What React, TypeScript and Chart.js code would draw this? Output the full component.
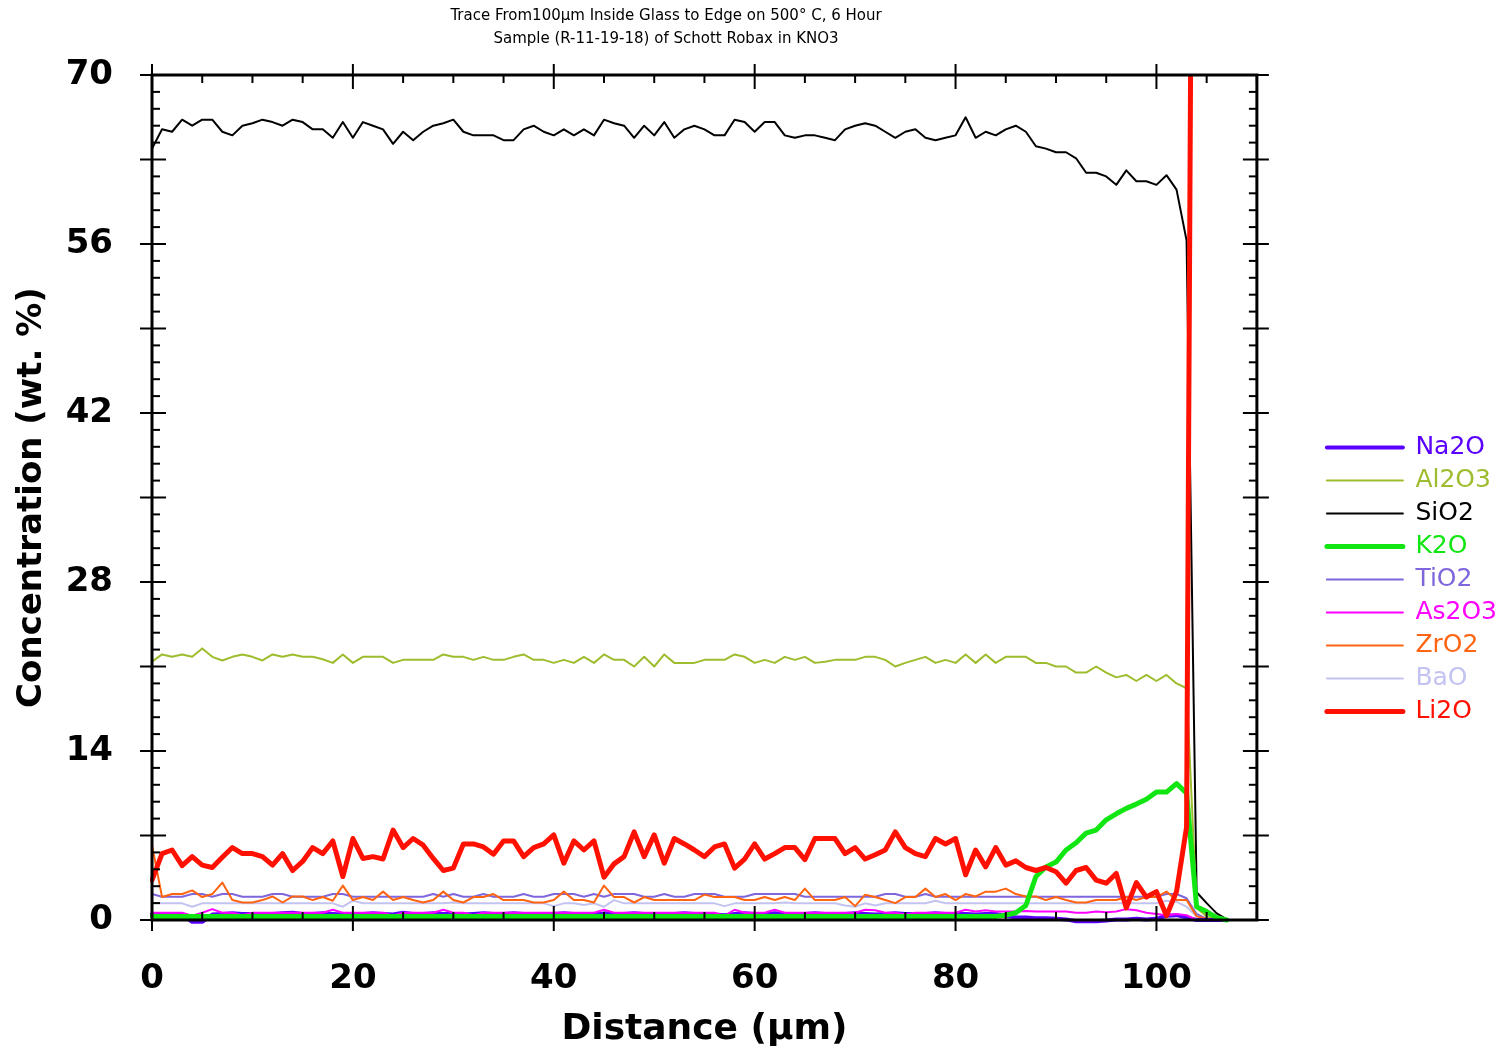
import React, { useEffect, useRef } from "react";
import { Chart, registerables } from "chart.js";

Chart.register(...registerables);

const TITLE_LINES = [
  "Trace From100µm Inside Glass to Edge on 500° C, 6 Hour",
  "Sample (R-11-19-18) of Schott Robax in KNO3",
];
const X_TITLE = "Distance (µm)";
const Y_TITLE = "Concentration (wt. %)";

const X_MIN = 0;
const X_MAX = 110;
const X_STEP = 5;
const X_MAJOR = 20;
const Y_MIN = 0;
const Y_MAX = 70;
const Y_STEP = 1.4;
const Y_MAJOR = 7;
const Y_LABEL_STEP = 14;

const distance = [
  0, 1, 2, 3, 4, 5, 6, 7, 8, 9, 10, 11, 12, 13, 14, 15, 16, 17, 18, 19,
  20, 21, 22, 23, 24, 25, 26, 27, 28, 29, 30, 31, 32, 33, 34, 35, 36, 37, 38, 39,
  40, 41, 42, 43, 44, 45, 46, 47, 48, 49, 50, 51, 52, 53, 54, 55, 56, 57, 58, 59,
  60, 61, 62, 63, 64, 65, 66, 67, 68, 69, 70, 71, 72, 73, 74, 75, 76, 77, 78, 79,
  80, 81, 82, 83, 84, 85, 86, 87, 88, 89, 90, 91, 92, 93, 94, 95, 96, 97, 98, 99,
  100, 101, 102, 103, 104, 105, 106, 107,
];

const na2o = [
  0.5, 0.45, 0.45, 0.45, -0.15, -0.15, 0.45, 0.5, 0.55, 0.5, 0.5, 0.45, 0.5, 0.55, 0.6, 0.5, 0.5, 0.55, 0.5, 0.45,
  0.5, 0.5, 0.55, 0.5, 0.45, 0.6, 0.5, 0.5, 0.55, 0.5, 0.5, 0.45, 0.5, 0.55, 0.5, 0.5, 0.55, 0.5, 0.45, 0.5,
  0.5, 0.55, 0.5, 0.5, 0.45, 0.55, 0.5, 0.5, 0.55, 0.5, 0.45, 0.5, 0.5, 0.55, 0.5, 0.5, 0.45, 0.4, 0.5, 0.55,
  0.5, 0.5, 0.55, 0.5, 0.45, 0.5, 0.55, 0.5, 0.5, 0.5, 0.55, 0.5, 0.45, 0.5, 0.55, 0.5, 0.5, 0.5, 0.55, 0.5,
  0.5, 0.5, 0.45, 0.5, 0.5, 0.35, 0.2, 0.2, 0.15, 0.15, 0.1, 0.05, -0.1, -0.1, -0.1, -0.05, 0.05, 0.05, 0.1, 0.05,
  0.1, 0.35, 0.4, 0.2, 0, 0, 0, 0,
];

const al2o3 = [
  21.4, 22.0, 21.8, 22.0, 21.8, 22.5, 21.8, 21.5, 21.8, 22.0, 21.8, 21.5, 22.0, 21.8, 22.0, 21.8, 21.8, 21.6, 21.3, 22.0,
  21.3, 21.8, 21.8, 21.8, 21.3, 21.55, 21.55, 21.55, 21.55, 22.0, 21.8, 21.8, 21.55, 21.8, 21.55, 21.55, 21.8, 22.0, 21.55, 21.55,
  21.3, 21.55, 21.3, 21.8, 21.3, 22.0, 21.55, 21.55, 21.0, 21.8, 21.0, 22.0, 21.3, 21.3, 21.3, 21.55, 21.55, 21.55, 22.0, 21.8,
  21.3, 21.55, 21.3, 21.8, 21.55, 21.8, 21.3, 21.4, 21.55, 21.55, 21.55, 21.8, 21.8, 21.55, 21.0, 21.3, 21.55, 21.8, 21.3, 21.55,
  21.3, 22.0, 21.3, 22.0, 21.3, 21.8, 21.8, 21.8, 21.3, 21.3, 21.0, 21.0, 20.5, 20.5, 21.0, 20.5, 20.1, 20.3, 19.8, 20.3,
  19.8, 20.3, 19.6, 19.2, 1.0, 0.3, 0.1, 0,
];

const sio2 = [
  63.9, 65.5, 65.3, 66.3, 65.8, 66.3, 66.3, 65.3, 65.0, 65.8, 66.0, 66.3, 66.1, 65.8, 66.3, 66.1, 65.5, 65.5, 64.8, 66.1,
  64.8, 66.1, 65.8, 65.5, 64.3, 65.3, 64.6, 65.3, 65.8, 66.0, 66.3, 65.3, 65.0, 65.0, 65.0, 64.6, 64.6, 65.5, 65.8, 65.3,
  65.0, 65.5, 65.0, 65.5, 65.0, 66.3, 66.0, 65.8, 64.8, 65.8, 65.0, 66.1, 64.8, 65.5, 65.8, 65.5, 65.0, 65.0, 66.3, 66.1,
  65.3, 66.1, 66.1, 65.0, 64.8, 65.0, 65.0, 64.8, 64.6, 65.5, 65.8, 66.0, 65.8, 65.3, 64.8, 65.3, 65.5, 64.8, 64.6, 64.8,
  65.0, 66.5, 64.8, 65.3, 65.0, 65.5, 65.8, 65.3, 64.1, 63.9, 63.6, 63.6, 63.1, 61.9, 61.9, 61.6, 60.9, 62.1, 61.2, 61.2,
  60.9, 61.7, 60.5, 56.3, 2.3, 1.4, 0.55, 0.05,
];

const k2o = [
  0.3, 0.3, 0.3, 0.3, 0.3, 0.3, 0.3, 0.3, 0.3, 0.3, 0.3, 0.3, 0.3, 0.3, 0.3, 0.3, 0.3, 0.3, 0.3, 0.3,
  0.3, 0.3, 0.3, 0.3, 0.3, 0.3, 0.3, 0.3, 0.3, 0.3, 0.3, 0.3, 0.3, 0.3, 0.3, 0.3, 0.3, 0.3, 0.3, 0.3,
  0.3, 0.3, 0.3, 0.3, 0.3, 0.3, 0.3, 0.3, 0.3, 0.3, 0.3, 0.3, 0.3, 0.3, 0.3, 0.3, 0.3, 0.3, 0.3, 0.3,
  0.3, 0.3, 0.3, 0.3, 0.3, 0.3, 0.3, 0.3, 0.3, 0.3, 0.3, 0.3, 0.3, 0.3, 0.3, 0.3, 0.3, 0.3, 0.3, 0.3,
  0.3, 0.3, 0.3, 0.3, 0.3, 0.4, 0.6, 1.2, 3.6, 4.4, 4.8, 5.8, 6.4, 7.2, 7.45, 8.3, 8.8, 9.25, 9.6, 10.0,
  10.6, 10.6, 11.3, 10.5, 1.1, 0.7, 0.2, 0,
];

const tio2 = [
  2.15, 1.93, 1.93, 1.93, 2.15, 2.15, 1.93, 2.15, 2.15, 1.93, 1.93, 1.93, 2.15, 2.15, 1.93, 1.93, 1.93, 1.93, 2.15, 2.15,
  1.93, 1.93, 1.93, 1.93, 1.93, 1.93, 1.93, 1.93, 2.15, 1.93, 2.15, 1.93, 1.93, 2.15, 1.93, 1.93, 1.93, 2.15, 1.93, 1.93,
  2.15, 2.15, 2.15, 1.93, 2.15, 1.93, 2.15, 2.15, 2.15, 1.93, 1.93, 2.15, 1.93, 1.93, 2.15, 2.15, 2.15, 1.93, 1.93, 1.93,
  2.15, 2.15, 2.15, 2.15, 2.15, 1.93, 1.93, 1.93, 1.93, 1.93, 1.93, 1.93, 1.93, 2.15, 2.15, 1.93, 1.93, 2.15, 1.93, 1.93,
  1.93, 1.93, 1.93, 1.93, 1.93, 1.93, 1.93, 1.93, 1.93, 1.93, 1.93, 1.93, 1.93, 1.93, 1.93, 1.93, 1.93, 1.93, 1.93, 1.93,
  1.93, 2.15, 2.15, 1.8, 0.5, 0.1, 0, 0,
];

const as2o3 = [
  0.6, 0.6, 0.6, 0.6, 0.35, 0.6, 0.9, 0.6, 0.6, 0.4, 0.6, 0.6, 0.6, 0.6, 0.6, 0.6, 0.6, 0.6, 0.85, 0.6,
  0.6, 0.6, 0.6, 0.6, 0.35, 0.6, 0.6, 0.6, 0.6, 0.85, 0.6, 0.6, 0.4, 0.6, 0.6, 0.6, 0.6, 0.6, 0.6, 0.6,
  0.6, 0.6, 0.6, 0.6, 0.6, 0.85, 0.6, 0.6, 0.6, 0.6, 0.6, 0.6, 0.6, 0.6, 0.6, 0.6, 0.6, 0.35, 0.85, 0.6,
  0.6, 0.6, 0.85, 0.6, 0.6, 0.6, 0.6, 0.6, 0.6, 0.6, 0.6, 0.85, 0.8, 0.6, 0.6, 0.45, 0.6, 0.6, 0.6, 0.6,
  0.6, 0.85, 0.7, 0.8, 0.7, 0.7, 0.7, 0.75, 0.7, 0.7, 0.7, 0.7, 0.6, 0.6, 0.7, 0.65, 0.7, 0.9, 0.8, 0.6,
  0.5, 0.4, 0.5, 0.4, 0, 0, 0, 0,
];

const zro2 = [
  6.2, 1.9, 2.15, 2.15, 2.45, 1.9, 2.15, 3.1, 1.65, 1.45, 1.45, 1.65, 1.95, 1.45, 1.95, 1.95, 1.65, 1.9, 1.6, 2.85,
  1.65, 1.9, 1.65, 2.35, 1.65, 1.9, 1.65, 1.45, 1.65, 2.35, 1.65, 1.45, 1.9, 1.9, 2.15, 1.65, 1.65, 1.65, 1.45, 1.45,
  1.65, 2.35, 1.65, 1.65, 1.45, 2.85, 1.9, 1.9, 1.45, 1.9, 1.65, 1.65, 1.65, 1.65, 1.65, 2.1, 1.9, 1.9, 1.9, 1.65,
  1.65, 1.9, 1.65, 1.9, 1.65, 2.6, 1.65, 1.65, 1.65, 1.9, 1.15, 2.1, 1.9, 1.65, 1.4, 1.9, 1.9, 2.6, 1.9, 2.15,
  1.65, 2.15, 1.95, 2.35, 2.35, 2.6, 2.15, 1.95, 1.95, 1.65, 1.9, 1.65, 1.45, 1.45, 1.65, 1.65, 1.65, 1.9, 1.65, 1.9,
  1.9, 2.35, 1.65, 1.65, 0.3, 0.1, 0, 0,
];

const bao = [
  1.38, 1.38, 1.38, 1.38, 1.1, 1.38, 1.38, 1.38, 1.38, 1.38, 1.38, 1.38, 1.38, 1.38, 1.38, 1.38, 1.38, 1.38, 1.38, 1.1,
  1.6, 1.38, 1.38, 1.38, 1.38, 1.38, 1.38, 1.38, 1.38, 1.38, 1.45, 1.38, 1.38, 1.38, 1.38, 1.38, 1.38, 1.38, 1.38, 1.38,
  1.15, 1.38, 1.38, 1.25, 1.38, 1.1, 1.65, 1.38, 1.38, 1.38, 1.38, 1.38, 1.38, 1.38, 1.38, 1.38, 1.38, 1.15, 1.38, 1.38,
  1.38, 1.38, 1.38, 1.45, 1.38, 1.38, 1.38, 1.38, 1.38, 1.2, 1.1, 1.38, 1.2, 1.38, 1.38, 1.38, 1.38, 1.38, 1.6, 1.38,
  1.38, 1.38, 1.38, 1.38, 1.38, 1.38, 1.38, 1.38, 1.38, 1.38, 1.38, 1.38, 1.38, 1.38, 1.38, 1.38, 1.38, 1.38, 1.38, 1.38,
  1.38, 1.6, 1.5, 1.1, 0.3, 0.1, 0, 0,
];

const li2o = [
  3.3, 5.5, 5.8, 4.5, 5.25, 4.55, 4.35, 5.2, 6.0, 5.5, 5.5, 5.25, 4.55, 5.5, 4.1, 4.85, 6.0, 5.5, 6.55, 3.6,
  6.75, 5.1, 5.25, 5.05, 7.45, 6.0, 6.75, 6.2, 5.1, 4.1, 4.3, 6.3, 6.3, 6.05, 5.45, 6.55, 6.55, 5.25, 6.0, 6.3,
  7.05, 4.7, 6.55, 5.8, 6.55, 3.55, 4.65, 5.25, 7.3, 5.25, 7.05, 4.7, 6.75, 6.3, 5.8, 5.25, 6.05, 6.3, 4.3, 5.05,
  6.3, 5.05, 5.5, 6.0, 6.0, 5.0, 6.75, 6.75, 6.75, 5.5, 6.0, 5.05, 5.4, 5.8, 7.3, 6.0, 5.5, 5.25, 6.75, 6.3,
  6.75, 3.75, 5.8, 4.4, 6.0, 4.55, 4.9, 4.35, 4.1, 4.35, 4.0, 3.05, 4.1, 4.35, 3.3, 3.05, 3.85, 1.0, 3.1, 1.9,
  2.35, 0.35, 2.35, 7.7, 165,
];

const seriesNames = ["Na2O", "Al2O3", "SiO2", "K2O", "TiO2", "As2O3", "ZrO2", "BaO", "Li2O"];
const seriesValues = [na2o, al2o3, sio2, k2o, tio2, as2o3, zro2, bao, li2o];
const seriesColors = ["#5a00ff", "#9ebd2e", "#000000", "#12e612", "#7f66dd", "#ff00ff", "#ff6412", "#c3c3f2", "#ff1000"];
const seriesWidths = [4, 2, 2, 5, 2, 2, 2, 2, 5];
const seriesOrder = [3, 7, 8, 1, 5, 2, 4, 6, 0];

const FONT = '"DejaVu Sans", "Liberation Sans", Arial, sans-serif';

const isMultiple = (v: number, step: number) => Math.abs(v / step - Math.round(v / step)) < 1e-6;

const frameTicksPlugin = {
  id: "frameTicks",
  afterDatasetsDraw(chart: any) {
    const { ctx, chartArea } = chart;
    const { left, right, top, bottom } = chartArea;
    const xs = chart.scales.x;
    const ys = chart.scales.y;
    ctx.save();
    ctx.strokeStyle = "#000";
    ctx.lineCap = "butt";
    ctx.lineWidth = 2;
    const seg = (x1: number, y1: number, x2: number, y2: number) => {
      ctx.beginPath();
      ctx.moveTo(x1, y1);
      ctx.lineTo(x2, y2);
      ctx.stroke();
    };
    xs.ticks.forEach((t: any) => {
      const px = xs.getPixelForValue(t.value);
      const major = isMultiple(t.value, X_MAJOR);
      const out = major ? 11 : 0;
      const inn = major ? 14 : 8;
      seg(px, bottom + out, px, bottom - inn);
      seg(px, top - out, px, top + inn);
    });
    ys.ticks.forEach((t: any) => {
      const py = ys.getPixelForValue(t.value);
      const major = isMultiple(t.value, Y_MAJOR);
      const out = major ? 12 : 0;
      const inn = major ? 14 : 8;
      seg(left - out, py, left + inn, py);
      seg(right + out, py, right - inn, py);
    });
    ctx.lineWidth = 3;
    ctx.strokeRect(left, top, right - left, bottom - top);
    ctx.restore();
  },
};

const topTitlePlugin = {
  id: "topTitle",
  afterDraw(chart: any) {
    const { ctx } = chart;
    ctx.save();
    ctx.fillStyle = "#000";
    ctx.font = `15px ${FONT}`;
    ctx.textAlign = "center";
    ctx.textBaseline = "middle";
    TITLE_LINES.forEach((line, i) => ctx.fillText(line, 666, 16 + i * 23));
    ctx.restore();
  },
};

export default function App() {
  const canvasRef = useRef<HTMLCanvasElement | null>(null);

  useEffect(() => {
    const canvas = canvasRef.current;
    if (!canvas) return;
    const datasets = seriesNames.map((name, si) => ({
      label: name,
      data: seriesValues[si].map((v, i) => ({ x: distance[i], y: v })),
      borderColor: seriesColors[si],
      backgroundColor: seriesColors[si],
      borderWidth: seriesWidths[si],
      pointRadius: 0,
      pointHoverRadius: 0,
      tension: 0,
      fill: false,
      order: seriesOrder[si],
      borderJoinStyle: "round" as const,
      borderCapStyle: "round" as const,
      clip: { left: 2, top: 0, right: 2, bottom: 4 },
    }));

    const chart = new Chart(canvas, {
      type: "line",
      data: { datasets },
      plugins: [frameTicksPlugin, topTitlePlugin],
      options: {
        responsive: false,
        animation: false,
        devicePixelRatio: 1,
        layout: { padding: { top: 75, left: 0, right: -8, bottom: 0 } },
        plugins: {
          title: { display: false },
          tooltip: { enabled: false },
          legend: {
            display: true,
            position: "right",
            fullSize: false,
            align: "center",
            title: {
              display: true,
              text: " ",
              font: { size: 1, lineHeight: 1 },
              padding: { top: 163, bottom: 0 },
            },
            labels: {
              usePointStyle: true,
              pointStyle: "line",
              pointStyleWidth: 76,
              boxWidth: 76,
              padding: 8,
              font: { family: FONT, size: 25 },
              generateLabels: (ch: any) =>
                ch.data.datasets.map((ds: any, i: number) => ({
                  text: ds.label,
                  fillStyle: ds.borderColor,
                  strokeStyle: ds.borderColor,
                  fontColor: ds.borderColor,
                  lineWidth: ds.borderWidth,
                  lineCap: "round",
                  pointStyle: "line",
                  hidden: false,
                  datasetIndex: i,
                })),
            },
          },
        },
        scales: {
          x: {
            type: "linear",
            position: "bottom",
            min: X_MIN,
            max: X_MAX,
            grid: { display: false, drawTicks: false },
            border: { display: false },
            ticks: {
              stepSize: X_STEP,
              autoSkip: false,
              maxRotation: 0,
              padding: 42,
              color: "#000",
              font: { family: FONT, weight: "bold", size: 34, lineHeight: 1 },
              callback: (v: any) => (isMultiple(Number(v), X_MAJOR) ? String(v) : ""),
            },
            title: {
              display: true,
              text: X_TITLE,
              color: "#000",
              font: { family: FONT, weight: "bold", size: 36, lineHeight: 1 },
              padding: { top: 0, bottom: 3 },
            },
            afterFit: (s: any) => {
              s.height = 131;
            },
          },
          y: {
            type: "linear",
            position: "left",
            min: Y_MIN,
            max: Y_MAX,
            grid: { display: false, drawTicks: false },
            border: { display: false },
            ticks: {
              stepSize: Y_STEP,
              autoSkip: false,
              padding: 39,
              color: "#000",
              font: { family: FONT, weight: "bold", size: 34, lineHeight: 1 },
              callback: (v: any) =>
                isMultiple(Number(v), Y_LABEL_STEP) ? String(Math.round(Number(v))) : "",
            },
            title: {
              display: true,
              text: Y_TITLE,
              color: "#000",
              font: { family: FONT, weight: "bold", size: 34, lineHeight: 1 },
              padding: { top: 15, bottom: 0 },
            },
            afterFit: (s: any) => {
              s.width = 152;
            },
          },
          y2: {
            type: "linear",
            position: "right",
            display: true,
            grid: { display: false, drawTicks: false },
            border: { display: false },
            ticks: { display: false },
            afterFit: (s: any) => {
              s.width = 62;
            },
          },
        },
      },
    } as any);

    return () => {
      chart.destroy();
    };
  }, []);

  return (
    <div style={{ position: "fixed", left: 0, top: 0, width: 1499, height: 1051, background: "#fff" }}>
      <canvas ref={canvasRef} width={1499} height={1051} style={{ display: "block" }} />
    </div>
  );
}
